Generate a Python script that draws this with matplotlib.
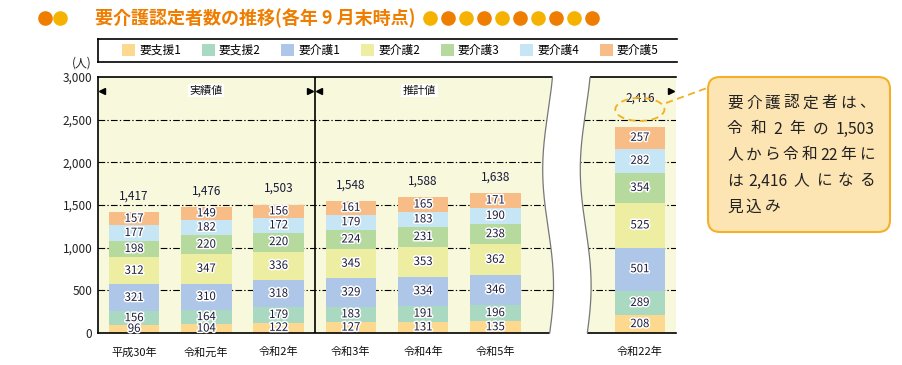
import matplotlib
matplotlib.use("Agg")
import matplotlib.pyplot as plt
import numpy as np
from matplotlib.patches import Patch, Polygon, Ellipse, FancyBboxPatch
import matplotlib.patheffects as pe

plt.rcParams['font.family'] = ['Noto Sans CJK JP', 'DejaVu Sans']

# ---- data ----
categories = ['平成30年', '令和元年', '令和2年', '令和3年', '令和4年', '令和5年', '令和22年']
positions = [0, 1, 2, 3, 4, 5, 7]
series_names = ['要支援1', '要支援2', '要介護1', '要介護2', '要介護3', '要介護4', '要介護5']
shien1 = [96, 104, 122, 127, 131, 135, 208]
shien2 = [156, 164, 179, 183, 191, 196, 289]
kaigo1 = [321, 310, 318, 329, 334, 346, 501]
kaigo2 = [312, 347, 336, 345, 353, 362, 525]
kaigo3 = [198, 220, 220, 224, 231, 238, 354]
kaigo4 = [177, 182, 172, 179, 183, 190, 282]
kaigo5 = [157, 149, 156, 161, 165, 171, 257]
totals = [1417, 1476, 1503, 1548, 1588, 1638, 2416]
yticks = [0, 500, 1000, 1500, 2000, 2500, 3000]
title = '要介護認定者数の推移(各年 9 月末時点)'
callout_lines = ['要介護認定者は、', '令和 2 年の 1,503', '人から令和 22 年に', 'は 2,416 人になる', '見込み']

series = [shien1, shien2, kaigo1, kaigo2, kaigo3, kaigo4, kaigo5]
colors = ['#fdd990', '#aad9c1', '#aec6e8', '#eeeea2', '#b6d99d', '#c6e6f6', '#f8bd86']
txtc = '#1a1a3a'

fig = plt.figure(figsize=(9.03, 3.65), dpi=100)
W, H = 903, 365

def fx(px):
    return px / W

def fy(py):
    return 1 - py / H

ax = fig.add_axes([fx(98), fy(333), fx(676) - fx(98), fy(77) - fy(333)])
ax.set_facecolor('#f8f8dc')
ax.set_xlim(-0.5, 7.5)
ax.set_ylim(0, 3000)
ax.spines['right'].set_visible(False)
for s in ['top', 'left', 'bottom']:
    ax.spines[s].set_linewidth(1.2)

ax.set_yticks(yticks)
ax.set_yticklabels([f'{v:,}' for v in yticks], fontsize=8.5, color='#222222')
ax.set_xticks(positions)
ax.set_xticklabels(categories, fontsize=8, color='#111111')
ax.tick_params(length=0)
ax.tick_params(axis='y', pad=4)
ax.tick_params(axis='x', pad=10)

for g in yticks[1:-1]:
    ax.axhline(g, color='black', lw=0.8, dashes=(6, 2, 1.2, 2), zorder=1)

halo = [pe.withStroke(linewidth=2.2, foreground='white')]
bottom = np.zeros(len(positions))
for vals, col, name in zip(series, colors, series_names):
    vals = np.array(vals, dtype=float)
    ax.bar(positions, vals, bottom=bottom, width=0.7, color=col, edgecolor='none', zorder=2, label=name)
    for x, b, v in zip(positions, bottom, vals):
        ax.text(x, b + v / 2, f'{int(v)}', ha='center', va='center', fontsize=8.2,
                color=txtc, zorder=4, path_effects=halo)
    bottom += vals

for x, t in zip(positions, totals):
    off = 16 if x == 7 else 7
    ax.annotate(f'{t:,}', (x, t), xytext=(0, off), textcoords='offset points',
                ha='center', va='bottom', fontsize=8.5, color=txtc, zorder=4)

# divider between actual and estimate
ax.plot([2.5, 2.5], [0, 3000], color='black', lw=1.2, zorder=3)

# period labels with arrowheads
ya = 2840
ax.text(1.0, ya, '実績値', ha='center', va='center', fontsize=8, color='#111111', zorder=4,
        bbox=dict(facecolor='white', edgecolor='none', pad=1))
ax.text(3.95, ya, '推計値', ha='center', va='center', fontsize=8, color='#111111', zorder=4,
        bbox=dict(facecolor='white', edgecolor='none', pad=1))
ax.plot([-0.44], [ya], marker='<', color='black', ms=4.5, zorder=4)
ax.plot([2.44], [ya], marker='>', color='black', ms=4.5, zorder=4)
ax.plot([2.56], [ya], marker='<', color='black', ms=4.5, zorder=4)
ax.plot([7.43], [ya], marker='>', color='black', ms=4.5, zorder=4)

# axis break (wavy white gap)
yy = np.linspace(-40, 3040, 200)
wave = 0.075 * np.sin((yy / 3000) * 2.2 * np.pi + 0.3)
xl = 5.73 + wave
xr = 6.25 + wave
poly = np.vstack([np.column_stack([xl, yy]), np.column_stack([xr[::-1], yy[::-1]])])
ax.add_patch(Polygon(poly, closed=True, facecolor='white', edgecolor='none', zorder=5, clip_on=False))
m = (yy >= 0) & (yy <= 3000)
ax.plot(xl[m], yy[m], color='#777777', lw=0.9, zorder=6, clip_on=False)
ax.plot(xr[m], yy[m], color='#777777', lw=0.9, zorder=6, clip_on=False)

# dashed ellipse around the last total
ax.add_patch(Ellipse((7, 2620), 0.68, 270, fill=False, edgecolor='#f2b01e', lw=1.3,
                     linestyle=(0, (4, 2.5)), zorder=6, clip_on=False))

# legend
handles = [Patch(facecolor=c, edgecolor='none', label=n) for c, n in zip(colors, series_names)]
fig.legend(handles=handles, loc='center left', bbox_to_anchor=(fx(122), fy(50.5)), ncol=7,
           frameon=False, fontsize=8.5, handlelength=1.1, handleheight=1.1,
           handletextpad=0.35, columnspacing=1.75, borderaxespad=0, borderpad=0)

# overlay for decorations
ov = fig.add_axes([0, 0, 1, 1], zorder=10)
ov.set_xlim(0, W)
ov.set_ylim(H, 0)
ov.axis('off')
ov.patch.set_alpha(0)

# legend frame lines
ov.plot([98, 98], [39, 62], color='black', lw=1.2)
ov.plot([98, 677], [39, 39], color='black', lw=1.2)
ov.plot([98, 677], [62, 62], color='black', lw=1.2)

# (人)
ov.text(82, 63, '(人)', ha='center', va='center', fontsize=8.5, color='#222222')

# title and dots
orange, yellow = '#ee7d00', '#f6b200'
ov.plot([45], [18], 'o', color=orange, ms=9.5)
ov.plot([60], [18], 'o', color=yellow, ms=9.5)
for i in range(10):
    ov.plot([430 + 18 * i], [18], 'o', color=yellow if i % 2 == 0 else orange, ms=9.5)
ov.text(95, 18, title, ha='left', va='center', fontsize=13, fontweight='bold', color=orange)

# callout
ov.add_patch(FancyBboxPatch((708, 77), 182, 155, boxstyle='round,pad=0,rounding_size=12',
                            facecolor='#fde4b3', edgecolor='#f3b12a', lw=1.5))
ov.plot([666, 707], [103, 88], color='#f2b01e', lw=1.3, linestyle=(0, (4, 2.5)))

# justified callout text (tokens placed with even spacing)
renderer = fig.canvas.get_renderer()
cfs = 11.3

def tokens(line):
    toks, run = [], ''
    for ch in line:
        if ch == ' ':
            if run:
                toks.append(run)
                run = ''
        elif ord(ch) < 128:
            run += ch
        else:
            if run:
                toks.append(run)
                run = ''
            toks.append(ch)
    if run:
        toks.append(run)
    return toks

def width_px(s):
    t = ov.text(0, 0, s, fontsize=cfs)
    w = t.get_window_extent(renderer).width
    t.remove()
    return w

x0, target = 727, 148
first_gap = None
for i, line in enumerate(callout_lines):
    toks = tokens(line)
    ws = [width_px(t) for t in toks]
    if i < len(callout_lines) - 1 and len(toks) > 1:
        gap = (target - sum(ws)) / (len(toks) - 1)
        if first_gap is None:
            first_gap = gap
    else:
        gap = first_gap if first_gap is not None else 3
    x = x0
    yline = 103 + 26 * i
    for t, w in zip(toks, ws):
        ov.text(x, yline, t, ha='left', va='center', fontsize=cfs, color='#222222')
        x += w + gap

fig.savefig('out.png', dpi=100)
